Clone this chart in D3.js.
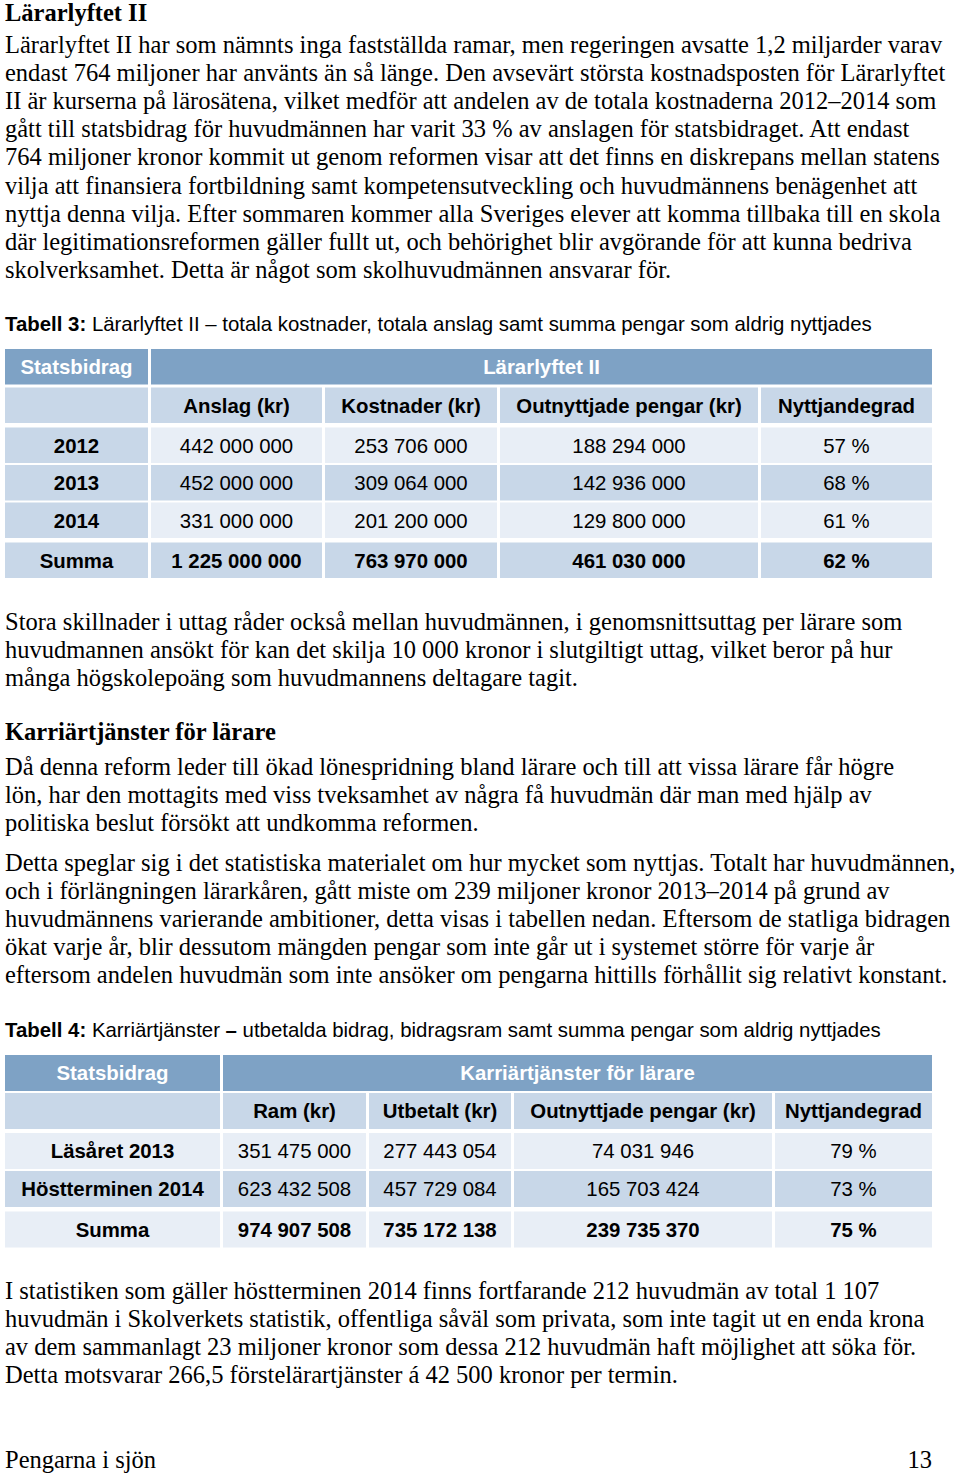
<!DOCTYPE html>
<html><head><meta charset="utf-8">
<script src="https://cdn.jsdelivr.net/npm/d3@7"></script>
<style>html,body{margin:0;padding:0;background:#fff}svg{display:block}</style>
</head><body><svg id="c"></svg>
<script>
// ---------- DATA ----------
const t3Categories = ["2012", "2013", "2014", "Summa"];
const t3Anslag = [442000000, 452000000, 331000000, 1225000000];
const t3Kostnader = [253706000, 309064000, 201200000, 763970000];
const t3Outnyttjade = [188294000, 142936000, 129800000, 461030000];
const t3Nyttjandegrad = [57, 68, 61, 62];
const t3Columns = ["Anslag (kr)", "Kostnader (kr)", "Outnyttjade pengar (kr)", "Nyttjandegrad"];
const t3Header = ["Statsbidrag", "Lärarlyftet II"];

const t4Categories = ["Läsåret 2013", "Höstterminen 2014", "Summa"];
const t4Ram = [351475000, 623432508, 974907508];
const t4Utbetalt = [277443054, 457729084, 735172138];
const t4Outnyttjade = [74031946, 165703424, 239735370];
const t4Nyttjandegrad = [79, 73, 75];
const t4Columns = ["Ram (kr)", "Utbetalt (kr)", "Outnyttjade pengar (kr)", "Nyttjandegrad"];
const t4Header = ["Statsbidrag", "Karriärtjänster för lärare"];

const heading1 = "Lärarlyftet II";
const para1 = [
  "Lärarlyftet II har som nämnts inga fastställda ramar, men regeringen avsatte 1,2 miljarder varav",
  "endast 764 miljoner har använts än så länge. Den avsevärt största kostnadsposten för Lärarlyftet",
  "II är kurserna på lärosätena, vilket medför att andelen av de totala kostnaderna 2012–2014 som",
  "gått till statsbidrag för huvudmännen har varit 33 % av anslagen för statsbidraget. Att endast",
  "764 miljoner kronor kommit ut genom reformen visar att det finns en diskrepans mellan statens",
  "vilja att finansiera fortbildning samt kompetensutveckling och huvudmännens benägenhet att",
  "nyttja denna vilja. Efter sommaren kommer alla Sveriges elever att komma tillbaka till en skola",
  "där legitimationsreformen gäller fullt ut, och behörighet blir avgörande för att kunna bedriva",
  "skolverksamhet. Detta är något som skolhuvudmännen ansvarar för."
];
const caption3 = ["Tabell 3:", " Lärarlyftet II – totala kostnader, totala anslag samt summa pengar som aldrig nyttjades"];
const para2 = [
  "Stora skillnader i uttag råder också mellan huvudmännen, i genomsnittsuttag per lärare som",
  "huvudmannen ansökt för kan det skilja 10 000 kronor i slutgiltigt uttag, vilket beror på hur",
  "många högskolepoäng som huvudmannens deltagare tagit."
];
const heading2 = "Karriärtjänster för lärare";
const para3 = [
  "Då denna reform leder till ökad lönespridning bland lärare och till att vissa lärare får högre",
  "lön, har den mottagits med viss tveksamhet av några få huvudmän där man med hjälp av",
  "politiska beslut försökt att undkomma reformen."
];
const para4 = [
  "Detta speglar sig i det statistiska materialet om hur mycket som nyttjas. Totalt har huvudmännen,",
  "och i förlängningen lärarkåren, gått miste om 239 miljoner kronor 2013–2014 på grund av",
  "huvudmännens varierande ambitioner, detta visas i tabellen nedan. Eftersom de statliga bidragen",
  "ökat varje år, blir dessutom mängden pengar som inte går ut i systemet större för varje år",
  "eftersom andelen huvudmän som inte ansöker om pengarna hittills förhållit sig relativt konstant."
];
const caption4 = ["Tabell 4:", " Karriärtjänster ", "–", " utbetalda bidrag, bidragsram samt summa pengar som aldrig nyttjades"];
const para5 = [
  "I statistiken som gäller höstterminen 2014 finns fortfarande 212 huvudmän av total 1 107",
  "huvudmän i Skolverkets statistik, offentliga såväl som privata, som inte tagit ut en enda krona",
  "av dem sammanlagt 23 miljoner kronor som dessa 212 huvudmän haft möjlighet att söka för.",
  "Detta motsvarar 266,5 förstelärartjänster á 42 500 kronor per termin."
];
const footerLeft = "Pengarna i sjön";
const footerRight = "13";

// ---------- LAYOUT ----------
const W = 960, H = 1475;
const SERIF = "'Liberation Serif','Times New Roman',serif";
const SANS = "'Liberation Sans',Arial,sans-serif";
const C_DARK = "#7ea2c5", C_MED = "#c8d7e8", C_LIGHT = "#e8eef6";
const lineH = 28.2;

const svg = d3.select("#c").attr("width", W).attr("height", H);
svg.append("rect").attr("width", W).attr("height", H).attr("fill", "#fff");

function para(lines, y0, bold) {
  svg.append("g").selectAll("text").data(lines).join("text")
    .attr("x", 5).attr("y", (d, i) => y0 + i * lineH)
    .attr("font-family", SERIF).attr("font-size", 24.5)
    .attr("font-weight", bold ? "bold" : "normal")
    .attr("fill", "#000").text(d => d);
}
para([heading1], 20.5, true);
para(para1, 52.5);
para(para2, 630);
para([heading2], 740, true);
para(para3, 774.5);
para(para4, 870.5);
para(para5, 1298.5);
svg.append("text").attr("x", 5).attr("y", 1468).attr("font-family", SERIF).attr("font-size", 24.5).text(footerLeft);
svg.append("text").attr("x", 932).attr("y", 1468).attr("text-anchor", "end").attr("font-family", SERIF).attr("font-size", 24.5).text(footerRight);

function caption(parts, boldIdx, y) {
  const t = svg.append("text").attr("x", 5).attr("y", y)
    .attr("font-family", SANS).attr("font-size", 20.4).attr("fill", "#000");
  parts.forEach((p, i) => t.append("tspan").attr("font-weight", boldIdx.includes(i) ? "bold" : "normal").text(p));
}
caption(caption3, [0], 330.5);
caption(caption4, [0, 2], 1036.5);

const loc = d3.formatLocale({decimal: ",", thousands: " ", grouping: [3], currency: ["", ""]});
const fmt = loc.format(",d");
const pct = v => v + " %";

function table(cfg) {
  const g = svg.append("g");
  const nCols = cfg.colEdges.length;
  const x0 = i => cfg.colEdges[i][0], x1 = i => cfg.colEdges[i][1];
  const rowIds = d3.range(cfg.rowTops.length);
  const y = d3.scaleOrdinal().domain(rowIds).range(cfg.rowTops);
  const rh = cfg.rowH;
  const cells = [];
  cells.push({r: 0, c0: 0, c1: 0, fill: C_DARK, text: cfg.header[0], bold: true, color: "#fff"});
  cells.push({r: 0, c0: 1, c1: nCols - 1, fill: C_DARK, text: cfg.header[1], bold: true, color: "#fff"});
  cells.push({r: 1, c0: 0, c1: 0, fill: C_MED, text: "", bold: true});
  cfg.columns.forEach((c, i) => cells.push({r: 1, c0: i + 1, c1: i + 1, fill: C_MED, text: c, bold: true}));
  cfg.categories.forEach((cat, ri) => {
    const isSum = ri === cfg.categories.length - 1;
    const fills = cfg.rowFills[ri];
    const vals = [cat].concat(cfg.series.map((s, si) => si === cfg.series.length - 1 ? pct(s[ri]) : fmt(s[ri])));
    vals.forEach((v, ci) => cells.push({r: ri + 2, c0: ci, c1: ci, fill: fills[ci === 0 ? 0 : 1], text: v, bold: isSum || ci === 0}));
  });
  g.selectAll("rect").data(cells).join("rect")
    .attr("x", d => x0(d.c0)).attr("width", d => x1(d.c1) - x0(d.c0))
    .attr("y", d => y(d.r)).attr("height", rh).attr("fill", d => d.fill);
  g.selectAll("text").data(cells).join("text")
    .attr("x", d => (x0(d.c0) + x1(d.c1)) / 2)
    .attr("y", d => y(d.r) + rh / 2 + 7.3)
    .attr("text-anchor", "middle")
    .attr("font-family", SANS).attr("font-size", 20.4)
    .attr("font-weight", d => d.bold ? "bold" : "normal")
    .attr("fill", d => d.color || "#000")
    .text(d => d.text);
}

table({
  colEdges: [[5, 148], [151, 322], [325, 497], [500, 758], [761, 932]],
  rowTops: [349, 387.5, 427.5, 465, 502.5, 542.5],
  rowH: 35.5,
  header: t3Header, columns: t3Columns, categories: t3Categories,
  series: [t3Anslag, t3Kostnader, t3Outnyttjade, t3Nyttjandegrad],
  rowFills: [[C_MED, C_LIGHT], [C_MED, C_MED], [C_MED, C_LIGHT], [C_MED, C_MED]]
});

table({
  colEdges: [[5, 220], [223, 366], [369, 511], [514, 772], [775, 932]],
  rowTops: [1055, 1093, 1133, 1171, 1211.5],
  rowH: 36,
  header: t4Header, columns: t4Columns, categories: t4Categories,
  series: [t4Ram, t4Utbetalt, t4Outnyttjade, t4Nyttjandegrad],
  rowFills: [[C_LIGHT, C_LIGHT], [C_MED, C_MED], [C_LIGHT, C_LIGHT]]
});
</script></body></html>
